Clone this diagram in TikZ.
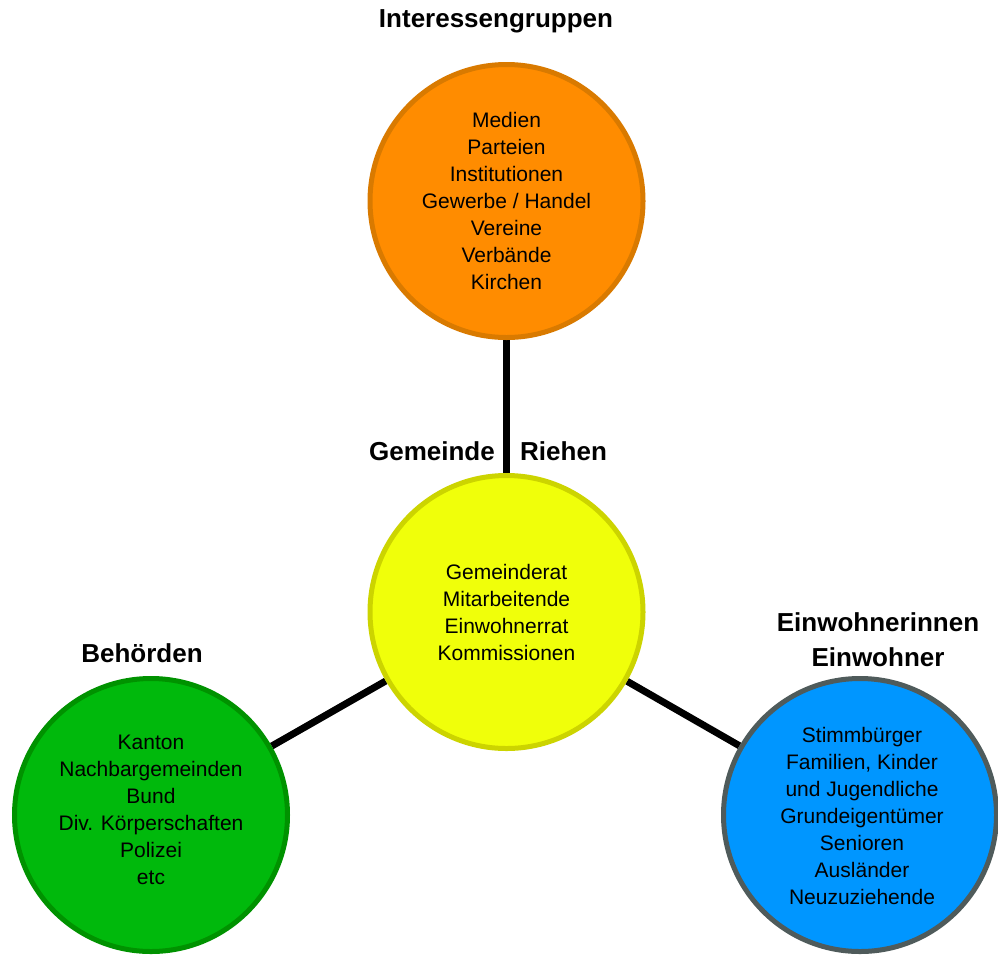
\documentclass[tikz,border=0pt]{standalone}
\usepackage{fontspec}
\setmainfont{Liberation Sans}
\usetikzlibrary{backgrounds}
\definecolor{orfill}{HTML}{FF8C00}
\definecolor{ordraw}{HTML}{D97A00}
\definecolor{yefill}{HTML}{F0FF0A}
\definecolor{yedraw}{HTML}{CCD400}
\definecolor{grfill}{HTML}{00B90C}
\definecolor{grdraw}{HTML}{009200}
\definecolor{blfill}{HTML}{0096FF}
\definecolor{bldraw}{HTML}{4F5B5B}
\tikzset{
  bubble/.style={circle, line width=5pt, minimum size=273pt, inner sep=0pt,
    align=center, font=\fontsize{21}{27}\selectfont},
  heading/.style={align=center, inner sep=0pt, font=\fontsize{26}{35}\selectfont\bfseries},
  link/.style={line width=7pt, draw=black}
}
\begin{document}
\begin{tikzpicture}[x=1pt,y=-1pt]
\useasboundingbox (0,0) rectangle (998,954);
\node[bubble, fill=orfill, draw=ordraw] (top) at (506.5,201) {Medien\\Parteien\\Institutionen\\Gewerbe / Handel\\Vereine\\Verbände\\Kirchen};
\node[bubble, fill=yefill, draw=yedraw] (mid) at (506.5,612) {Gemeinderat\\Mitarbeitende\\Einwohnerrat\\Kommissionen};
\node[bubble, fill=grfill, draw=grdraw] (left) at (151,815) {};
\node[font=\fontsize{21}{27}\selectfont, align=center, inner sep=0pt] (lefttext) at (151,809.5) {Kanton\\Nachbargemeinden\\Bund\\Div. Körperschaften\\Polizei\\etc};
\node[bubble, fill=blfill, draw=bldraw] (right) at (860,815) {};
\node[font=\fontsize{21}{27}\selectfont, align=center, inner sep=0pt] (righttext) at (862,816) {Stimmbürger\\Familien, Kinder\\und Jugendliche\\Grundeigentümer\\Senioren\\Ausländer\\Neuzuziehende};
\begin{scope}[on background layer]
\draw[link] (top) -- (mid);
\draw[link] (mid) -- (left);
\draw[link] (mid) -- (right);
\end{scope}
\node[heading] (h1) at (496,21) {Interessengruppen};
\node[heading, anchor=east] (h2a) at (495,451) {Gemeinde};
\node[heading, anchor=west] (h2b) at (520,451) {Riehen};
\node[heading] (h3) at (142,653) {Behörden};
\node[heading] (h4) at (878,639.5) {Einwohnerinnen\\Einwohner};
\end{tikzpicture}
\end{document}
